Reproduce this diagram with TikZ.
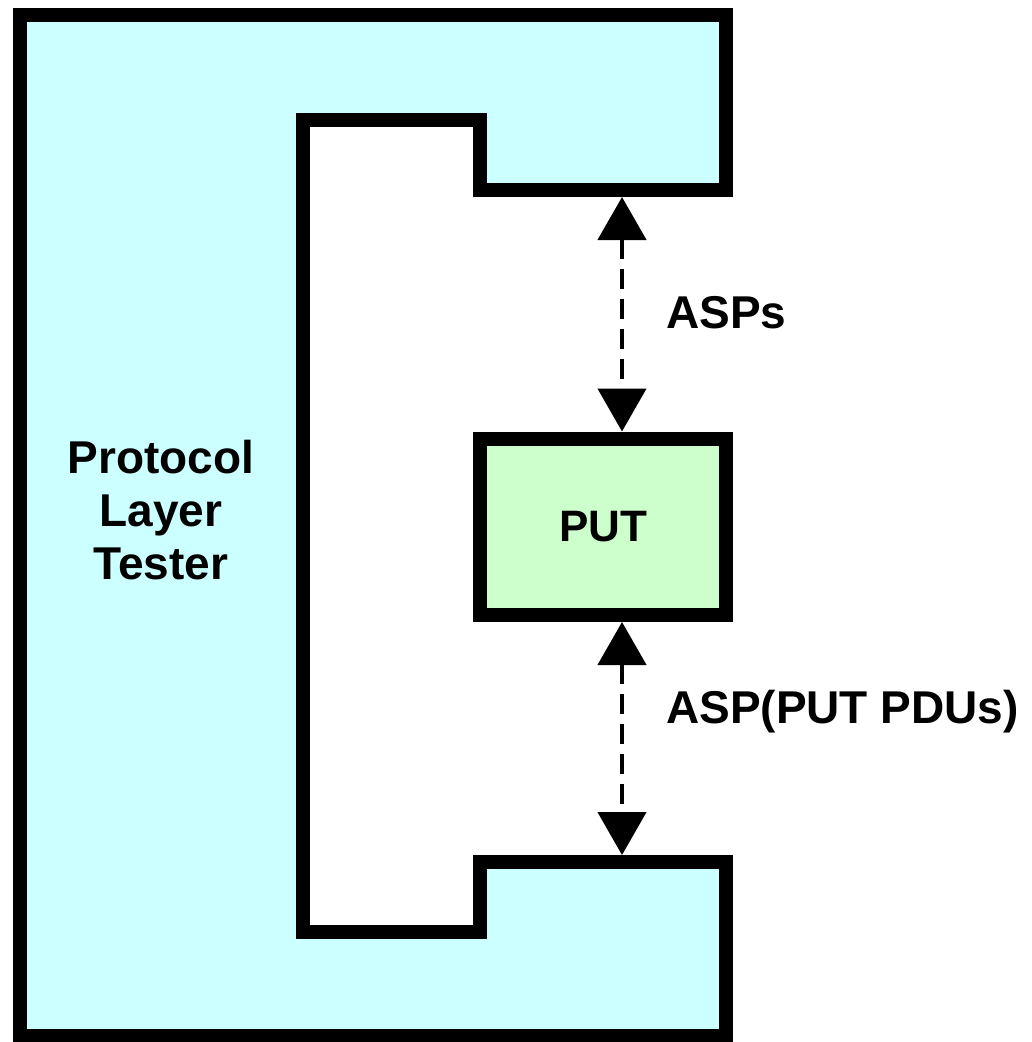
\documentclass[tikz,border=0pt]{standalone}
\usepackage{fontspec}
\setmainfont{Liberation Sans}
\usetikzlibrary{arrows.meta}
\definecolor{tcyan}{HTML}{CCFFFF}
\definecolor{tgreen}{HTML}{CCFFCC}
\begin{document}
\begin{tikzpicture}[x=1pt,y=-1pt,
  outline/.style={draw=black,line width=14pt,miter limit=10},
  lbl/.style={font=\fontsize{46}{53}\selectfont\bfseries,inner sep=0pt},
  asp/.style={line width=4.5pt,dash pattern=on 20pt off 10pt,
    {Triangle[length=43pt,width=48pt]}-{Triangle[length=43pt,width=48pt]},shorten <=0pt,shorten >=0pt}]
\useasboundingbox (0,0) rectangle (1032,1042);
% tester shape
\path[outline,fill=tcyan] (20,14.5) -- (726,14.5) -- (726,190) -- (480,190) -- (480,120)
  -- (303,120) -- (303,932) -- (480,932) -- (480,862) -- (726,862) -- (726,1036)
  -- (20,1036) -- cycle;
\node[lbl,align=center] (plt) at (161,510) {Protocol\\Layer\\Tester};
% PUT
\node[outline,fill=tgreen,minimum width=246pt,minimum height=176.5pt,inner sep=0pt,
  font=\fontsize{44}{50}\selectfont\bfseries] (put) at (603,526.75) {PUT};
\coordinate (upper) at (622,197);
\coordinate (lower) at (622,855);
\draw[asp] (upper) -- (upper |- put.north);
\draw[asp] (upper |- put.south) -- (lower);
\node[lbl,anchor=west] (asps) at (666,313) {ASPs};
\node[lbl,anchor=west] (aspp) at (666,712) {ASP(PUT PDUs)};
\end{tikzpicture}
\end{document}
